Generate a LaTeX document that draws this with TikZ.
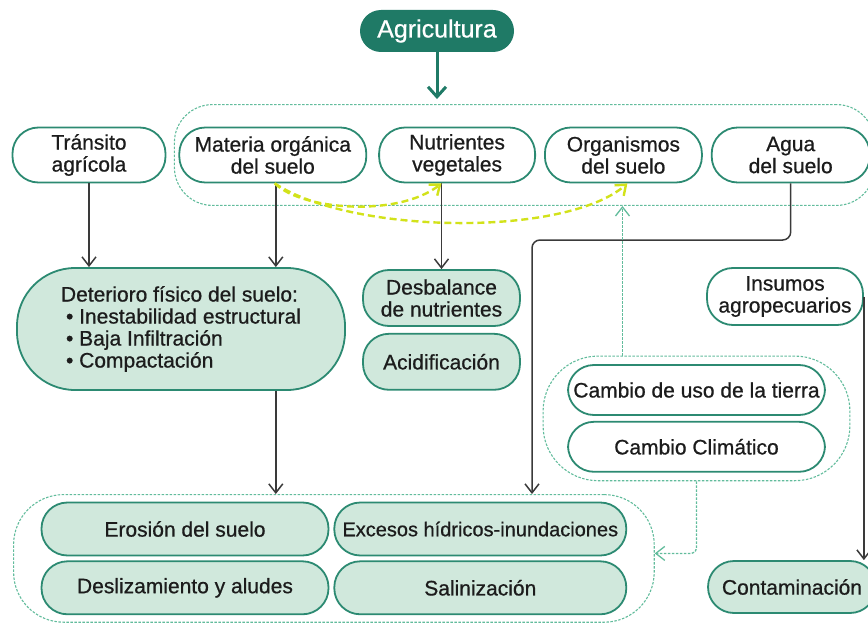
\documentclass[tikz,border=0pt]{standalone}
\usepackage{fontspec}
\setmainfont{Liberation Sans}
\newfontfamily\medfont{Liberation Sans}[FakeBold=0.7]
\usetikzlibrary{positioning,fit,arrows.meta}

\definecolor{agrteal}{HTML}{1F7A66}
\definecolor{boxteal}{HTML}{2C8A72}
\definecolor{boxfill}{HTML}{D0E8DC}
\definecolor{grpteal}{HTML}{62BC9C}
\definecolor{linegray}{HTML}{3A3A3A}
\definecolor{textgray}{HTML}{1C1C1C}
\definecolor{limeyellow}{HTML}{D2E21A}

\begin{document}
\begin{tikzpicture}[x=1pt,y=1pt,>={Straight Barb[length=9pt,width=14pt]},
    pill node/.style={draw=boxteal,line width=1.8pt,rounded corners=26pt,minimum height=55pt,inner sep=2pt,align=center,font=\medfont\fontsize{21}{22}\selectfont,text=textgray},
    fill node/.style={pill node,fill=boxfill},
    group node/.style={draw=grpteal,line width=1.1pt,dash pattern=on 2.5pt off 1.5pt},
    link/.style={->,draw=linegray,line width=1.5pt},
    group link/.style={->,draw=grpteal,line width=1.3pt,dash pattern=on 2.5pt off 1.5pt},
    lime link/.style={->,draw=limeyellow,line width=2.4pt,dash pattern=on 7pt off 4pt}]
    \useasboundingbox (0,0) rectangle (868,-623);

    \node[fill=agrteal,text=white,rounded corners=21pt,minimum width=154pt,minimum height=42pt,font=\medfont\fontsize{25}{27}\selectfont] (agr) at (437,-31) {Agricultura};

    % fila de arriba
    \node[pill node,minimum width=153pt] (tra) at (89,-155) {Tránsito\\agrícola};
    \node[pill node,minimum width=187pt,right=12pt of tra] (mat) {Materia orgánica\\del suelo};
    \node[pill node,minimum width=156pt,right=11pt of mat] (nut) {Nutrientes\\vegetales};
    \node[pill node,minimum width=157pt,right=8pt of nut] (org) {Organismos\\del suelo};
    \node[pill node,minimum width=158pt,right=8pt of org] (agu) {Agua\\del suelo};
    \node[group node,fit=(mat)(agu),inner xsep=4pt,inner ysep=22pt,rounded corners=38pt] (top) {};

    % efectos
    \node[fill node,minimum width=328pt,minimum height=122pt,rounded corners=58pt,align=left] (det) at (181,-329)
        {Deterioro físico del suelo:\\\hspace*{5pt}\textbullet\ Inestabilidad estructural\\\hspace*{5pt}\textbullet\ Baja Infiltración\\\hspace*{5pt}\textbullet\ Compactación};
    \node[fill node,minimum width=157pt,minimum height=56pt] (des) at (441.5,-298) {Desbalance\\de nutrientes};
    \node[fill node,minimum width=157pt,minimum height=56pt,below=6pt of des] (aci) {Acidificación};
    \node[pill node,minimum width=156pt,minimum height=57pt] (ins) at (785,-296.5) {Insumos\\agropecuarios};

    \node[pill node,minimum width=257pt,minimum height=50pt] (cuso) at (696.5,-390) {Cambio de uso de la tierra};
    \node[pill node,minimum width=257pt,minimum height=50pt,below=5pt of cuso] (ccli) {Cambio Climático};
    \node[group node,fit=(cuso)(ccli),inner xsep=24pt,inner ysep=8pt,rounded corners=55pt] (cgrp) {};

    % fila de abajo
    \node[fill node,minimum width=287pt,minimum height=53pt] (ero) at (185,-529) {Erosión del suelo};
    \node[fill node,minimum width=292pt,minimum height=53pt,right=4pt of ero,font=\medfont\fontsize{20}{22}\selectfont] (exc) {Excesos hídricos-inundaciones};
    \node[fill node,minimum width=287pt,minimum height=53pt,below=4pt of ero] (desl) {Deslizamiento y aludes};
    \node[fill node,minimum width=292pt,minimum height=53pt,below=4pt of exc] (sal) {Salinización};
    \node[group node,fit=(ero)(sal),inner xsep=27pt,inner ysep=7pt,rounded corners=50pt] (bot) {};
    \node[fill node,minimum width=168pt,minimum height=52pt] (con) at (792,-587) {Contaminación};

    \coordinate (bend) at (532,-240);

    \draw[->,draw=agrteal,line width=3pt,>={Straight Barb[length=10pt,width=18pt]}] (agr.south) -- ([yshift=5pt]agr.south |- top.north);
    \draw[link] (tra.south) -- (tra.south |- det.north);
    \draw[link] ([xshift=3pt]mat.south) -- ([xshift=3pt]mat.south |- det.north);
    \draw[link] (des.north |- nut.south) -- (des.north);
    \draw[link,rounded corners=8pt] (agu.south) |- (bend) -- (bend |- bot.north);
    \draw[link] ([xshift=3pt]mat.south |- det.south) -- ([xshift=3pt]mat.south |- bot.north);
    \draw[link] (ins.east) -- (ins.east |- con.north);

    \draw[group link] ([xshift=-74pt]cgrp.north) -- ([xshift=-74pt]cgrp.north |- top.south);
    \draw[group link,rounded corners=5pt] (cgrp.south) |- ([yshift=5pt]bot.east);

    \draw[lime link] ([xshift=2pt]mat.south) .. controls +(27,-27) and +(-43,-34) .. (des.north |- nut.south);
    \draw[lime link] ([xshift=2pt]mat.south) .. controls +(77,-51) and +(-62,-54) .. ([xshift=4pt]org.south);
\end{tikzpicture}
\end{document}
